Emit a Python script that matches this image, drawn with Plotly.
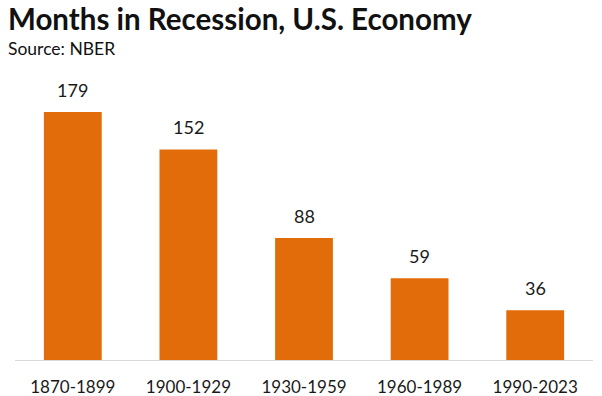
import plotly.graph_objects as go

categories = ["1870-1899", "1900-1929", "1930-1959", "1960-1989", "1990-2023"]
months = [179, 152, 88, 59, 36]

title_text = "Months in Recession, U.S. Economy"
subtitle_text = "Source: NBER"

BAR = "#E36C0A"
FONT = "Lato"

fig = go.Figure()
fig.add_trace(go.Bar(
    x=categories, y=months,
    marker=dict(color=BAR, line=dict(width=0)),
    hoverinfo="skip",
))

fig.update_layout(
    width=602, height=396,
    margin=dict(l=15, r=9, t=83, b=36),
    paper_bgcolor="white", plot_bgcolor="white",
    bargap=0.5, showlegend=False,
)

for c, v in zip(categories, months):
    fig.add_annotation(x=c, y=v, text=str(v), showarrow=False,
                       yanchor="bottom", yshift=9,
                       font=dict(family=FONT, size=18, color="#1a1a1a"))

fig.add_annotation(xref="paper", yref="paper", x=-15/578, y=1 + 83/277, xanchor="left", yanchor="top",
                   xshift=6, yshift=1,
                   text="<b>" + title_text + "</b>", showarrow=False,
                   font=dict(family=FONT, size=29.5, color="#111111"))

fig.add_annotation(xref="paper", yref="paper", x=-15/578, y=1 + 83/277, xanchor="left", yanchor="top",
                   xshift=6, yshift=-36,
                   text=subtitle_text, showarrow=False,
                   font=dict(family=FONT, size=17.5, color="#111111"))

fig.update_xaxes(showline=True, linecolor="#D9D9D9", linewidth=1, showgrid=False,
                 ticks="", tickfont=dict(family=FONT, size=17, color="#1a1a1a"),
                 ticklabelstandoff=12, automargin=False)
fig.update_yaxes(visible=False, range=[0, 200], showgrid=False, automargin=False)

fig.write_html("out.html", config={"displayModeBar": False},
               post_script="document.body.style.margin='0';")
